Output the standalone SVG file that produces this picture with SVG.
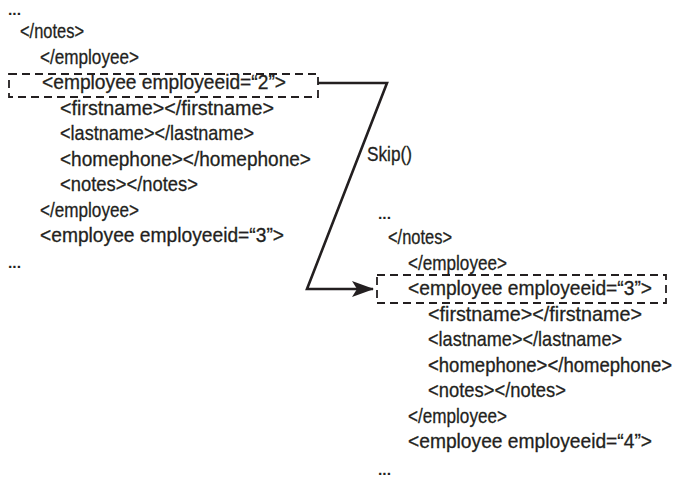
<svg xmlns="http://www.w3.org/2000/svg" width="678" height="486" viewBox="0 0 678 486">
<style>
text{font-family:"Liberation Sans",Arial,sans-serif;font-size:21px;fill:#231f20;stroke:#231f20;stroke-width:0.3}
.dots{font-weight:bold;font-size:15px;stroke:none}
.box{fill:none;stroke:#231f20;stroke-width:1.8;stroke-dasharray:8 5}
.conn{fill:none;stroke:#231f20;stroke-width:2.6}
</style>
<defs>
<marker id="ah" markerWidth="22" markerHeight="16" refX="21" refY="8" orient="auto" markerUnits="userSpaceOnUse">
<path d="M0,0 L22,8 L0,16 L5,8 Z" fill="#231f20"/>
</marker>
</defs>
<rect width="678" height="486" fill="#fff"/>
<g id="left-block">
<text class="dots" x="8" y="15" textLength="13" lengthAdjust="spacingAndGlyphs">...</text>
<text x="20" y="38" textLength="64" lengthAdjust="spacingAndGlyphs">&lt;/notes&gt;</text>
<text x="40" y="63.5" textLength="99" lengthAdjust="spacingAndGlyphs">&lt;/employee&gt;</text>
<text x="42" y="89" textLength="244" lengthAdjust="spacingAndGlyphs">&lt;employee employeeid=“2”&gt;</text>
<text x="60" y="114.5" textLength="214" lengthAdjust="spacingAndGlyphs">&lt;firstname&gt;&lt;/firstname&gt;</text>
<text x="60" y="140" textLength="194" lengthAdjust="spacingAndGlyphs">&lt;lastname&gt;&lt;/lastname&gt;</text>
<text x="60" y="165.5" textLength="251" lengthAdjust="spacingAndGlyphs">&lt;homephone&gt;&lt;/homephone&gt;</text>
<text x="60" y="191" textLength="138" lengthAdjust="spacingAndGlyphs">&lt;notes&gt;&lt;/notes&gt;</text>
<text x="40" y="216.5" textLength="99" lengthAdjust="spacingAndGlyphs">&lt;/employee&gt;</text>
<text x="40" y="242" textLength="244" lengthAdjust="spacingAndGlyphs">&lt;employee employeeid=“3”&gt;</text>
<text class="dots" x="8" y="268" textLength="13" lengthAdjust="spacingAndGlyphs">...</text>
</g>
<g id="box-employee-2">
<rect class="box" x="9" y="74" width="309" height="23"/>
</g>
<g id="right-block">
<text class="dots" x="378" y="219" textLength="13" lengthAdjust="spacingAndGlyphs">...</text>
<text x="388" y="244" textLength="64" lengthAdjust="spacingAndGlyphs">&lt;/notes&gt;</text>
<text x="408" y="269.5" textLength="99" lengthAdjust="spacingAndGlyphs">&lt;/employee&gt;</text>
<text x="408" y="295" textLength="244" lengthAdjust="spacingAndGlyphs">&lt;employee employeeid=“3”&gt;</text>
<text x="428" y="320.5" textLength="214" lengthAdjust="spacingAndGlyphs">&lt;firstname&gt;&lt;/firstname&gt;</text>
<text x="428" y="346" textLength="194" lengthAdjust="spacingAndGlyphs">&lt;lastname&gt;&lt;/lastname&gt;</text>
<text transform="translate(428,371.5) scale(1,1.135)" x="0" y="0" style="font-size:18.5px" textLength="244" lengthAdjust="spacingAndGlyphs">&lt;homephone&gt;&lt;/homephone&gt;</text>
<text x="428" y="397" textLength="138" lengthAdjust="spacingAndGlyphs">&lt;notes&gt;&lt;/notes&gt;</text>
<text x="408" y="422.5" textLength="99" lengthAdjust="spacingAndGlyphs">&lt;/employee&gt;</text>
<text x="408" y="448" textLength="244" lengthAdjust="spacingAndGlyphs">&lt;employee employeeid=“4”&gt;</text>
<text class="dots" x="378" y="475" textLength="13" lengthAdjust="spacingAndGlyphs">...</text>
</g>
<g id="box-employee-3">
<rect class="box" x="377" y="275" width="289" height="28"/>
</g>
<g id="connectors">
<path class="conn" d="M318,83 L387,83 L307,289 L373,289" marker-end="url(#ah)"/>
<text x="367" y="161" textLength="45" lengthAdjust="spacingAndGlyphs">Skip()</text>
</g>
</svg>
